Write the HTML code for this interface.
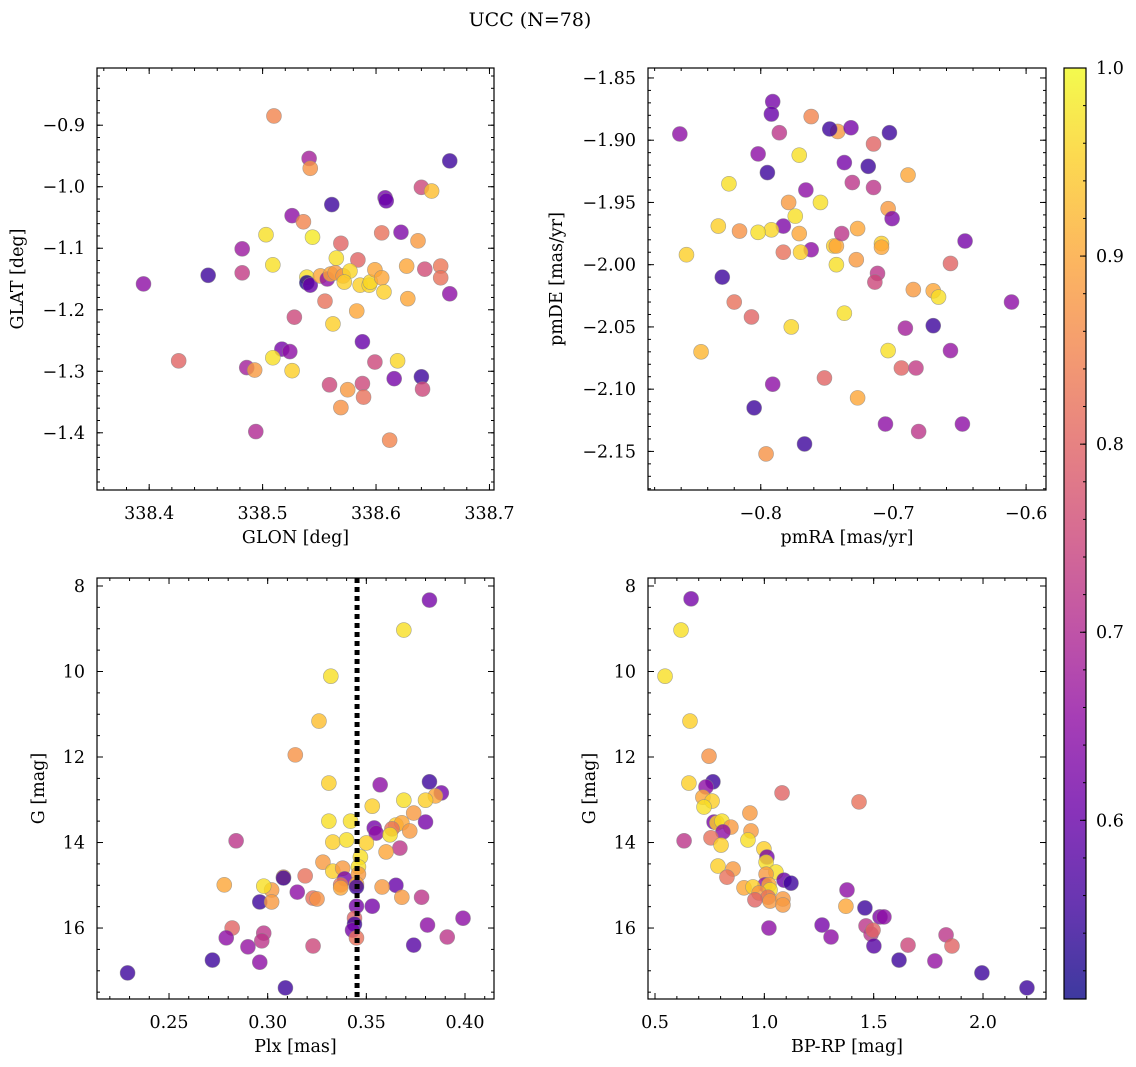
<!DOCTYPE html>
<html><head><meta charset="utf-8">
<style>
html,body{margin:0;padding:0;background:#fff;}
svg{display:block;font-family:"DejaVu Serif","Liberation Serif",serif;}
</style></head>
<body>
<svg id="fig" width="1136" height="1067" viewBox="0 0 1136 1067" xmlns="http://www.w3.org/2000/svg">
<text x="530" y="26" font-size="19" text-anchor="middle">UCC (N=78)</text>
</svg>
<script>
// ---- Panel 1: GLON / GLAT ----
const glon1=[338.510,338.541,338.542,338.665,338.608,338.609,338.640,338.649,338.561,338.526,338.536,338.503,338.544,338.482,338.569,338.605,338.622,338.637,338.509,338.482,338.452,338.395,338.584,338.565,338.539,338.539,338.542,338.551,338.557,338.560,338.564,338.571,338.577,338.572,338.586,338.594,338.595,338.599,338.605,338.607,338.627,338.643,338.657,338.657,338.665,338.628,338.555,338.583,338.562,338.528,338.588,338.517,338.524,338.486,338.493,338.509,338.526,338.619,338.599,338.426,338.559,338.575,338.588,338.589,338.640,338.616,338.641,338.569,338.612,338.494];
const glat1=[-0.885,-0.954,-0.970,-0.958,-1.018,-1.023,-1.001,-1.007,-1.029,-1.047,-1.057,-1.078,-1.082,-1.101,-1.092,-1.075,-1.074,-1.088,-1.127,-1.140,-1.144,-1.158,-1.119,-1.116,-1.147,-1.156,-1.160,-1.145,-1.150,-1.142,-1.140,-1.145,-1.137,-1.155,-1.160,-1.160,-1.155,-1.135,-1.148,-1.171,-1.129,-1.134,-1.129,-1.148,-1.174,-1.182,-1.186,-1.202,-1.223,-1.212,-1.252,-1.264,-1.268,-1.294,-1.298,-1.278,-1.299,-1.283,-1.285,-1.283,-1.322,-1.330,-1.320,-1.342,-1.309,-1.312,-1.329,-1.359,-1.412,-1.398];
const prob1=[0.85,0.68,0.87,0.55,0.62,0.6,0.75,0.93,0.55,0.65,0.85,0.97,0.98,0.67,0.8,0.82,0.63,0.88,0.97,0.73,0.55,0.65,0.8,0.97,0.97,0.52,0.6,0.9,0.65,0.9,0.88,0.88,0.96,0.95,0.95,0.96,0.96,0.9,0.9,0.95,0.9,0.76,0.83,0.82,0.65,0.9,0.82,0.9,0.95,0.75,0.6,0.62,0.65,0.68,0.88,0.97,0.95,0.96,0.75,0.8,0.75,0.88,0.75,0.82,0.55,0.62,0.75,0.87,0.85,0.7];
// ---- Panel 2: pmRA / pmDE ----
const pmra2=[-0.861,-0.791,-0.792,-0.762,-0.742,-0.748,-0.732,-0.703,-0.786,-0.802,-0.715,-0.771,-0.737,-0.719,-0.795,-0.766,-0.731,-0.715,-0.689,-0.824,-0.779,-0.755,-0.774,-0.783,-0.816,-0.792,-0.771,-0.727,-0.704,-0.701,-0.832,-0.802,-0.762,-0.783,-0.770,-0.745,-0.743,-0.739,-0.709,-0.709,-0.743,-0.728,-0.712,-0.714,-0.856,-0.829,-0.646,-0.657,-0.685,-0.670,-0.666,-0.820,-0.807,-0.737,-0.777,-0.691,-0.670,-0.611,-0.845,-0.657,-0.704,-0.694,-0.683,-0.752,-0.791,-0.727,-0.805,-0.706,-0.681,-0.648,-0.767,-0.796];
const pmde2=[-1.895,-1.869,-1.879,-1.881,-1.893,-1.891,-1.890,-1.894,-1.894,-1.911,-1.903,-1.912,-1.918,-1.921,-1.926,-1.940,-1.934,-1.938,-1.928,-1.935,-1.950,-1.950,-1.961,-1.969,-1.973,-1.972,-1.975,-1.971,-1.955,-1.963,-1.969,-1.974,-1.988,-1.990,-1.990,-1.985,-1.985,-1.975,-1.983,-1.986,-2.000,-1.996,-2.007,-2.014,-1.992,-2.010,-1.981,-1.999,-2.020,-2.021,-2.026,-2.030,-2.042,-2.039,-2.050,-2.051,-2.049,-2.030,-2.070,-2.069,-2.069,-2.083,-2.083,-2.091,-2.096,-2.107,-2.115,-2.128,-2.134,-2.128,-2.144,-2.152];
const prob2=[0.65,0.62,0.6,0.85,0.88,0.55,0.62,0.55,0.72,0.65,0.8,0.97,0.62,0.55,0.55,0.65,0.72,0.72,0.9,0.97,0.88,0.97,0.97,0.63,0.87,0.96,0.9,0.9,0.88,0.63,0.95,0.97,0.65,0.82,0.95,0.95,0.9,0.72,0.95,0.9,0.97,0.88,0.72,0.75,0.95,0.55,0.62,0.8,0.88,0.9,0.97,0.82,0.8,0.97,0.96,0.68,0.55,0.65,0.92,0.66,0.97,0.8,0.73,0.8,0.65,0.9,0.55,0.65,0.72,0.65,0.55,0.87];
// ---- Panel 3: Plx / G ----
const plx3=[0.382,0.369,0.332,0.326,0.314,0.331,0.382,0.357,0.388,0.385,0.380,0.369,0.353,0.374,0.331,0.342,0.380,0.354,0.365,0.368,0.363,0.372,0.355,0.333,0.340,0.362,0.350,0.367,0.284,0.360,0.328,0.347,0.333,0.338,0.346,0.308,0.319,0.308,0.339,0.346,0.345,0.278,0.365,0.345,0.358,0.302,0.337,0.337,0.315,0.298,0.323,0.325,0.296,0.302,0.368,0.378,0.345,0.353,0.399,0.344,0.381,0.344,0.343,0.298,0.282,0.279,0.391,0.345,0.297,0.323,0.374,0.290,0.272,0.296,0.229,0.309];
const gmag3=[8.33,9.03,10.11,11.16,11.95,12.61,12.58,12.65,12.84,12.91,13.01,13.01,13.15,13.31,13.50,13.50,13.52,13.66,13.59,13.54,13.68,13.73,13.78,13.99,13.94,13.82,14.01,14.13,13.96,14.22,14.46,14.34,14.67,14.60,14.57,14.81,14.78,14.83,14.85,14.74,14.97,14.99,15.00,15.04,15.04,15.11,14.99,15.06,15.16,15.02,15.30,15.32,15.39,15.39,15.28,15.28,15.49,15.49,15.77,15.77,15.93,15.91,16.05,16.12,16.00,16.23,16.21,16.23,16.30,16.42,16.40,16.44,16.75,16.80,17.05,17.40];
const prob3=[0.62,0.97,0.97,0.93,0.87,0.95,0.55,0.65,0.62,0.9,0.95,0.97,0.95,0.88,0.97,0.97,0.62,0.62,0.95,0.9,0.82,0.88,0.65,0.95,0.97,0.97,0.95,0.72,0.72,0.9,0.88,0.97,0.95,0.88,0.97,0.9,0.82,0.55,0.62,0.88,0.9,0.9,0.6,0.55,0.88,0.88,0.82,0.9,0.65,0.97,0.82,0.87,0.55,0.88,0.88,0.72,0.62,0.62,0.65,0.8,0.65,0.55,0.62,0.72,0.8,0.65,0.72,0.82,0.72,0.75,0.58,0.66,0.55,0.65,0.55,0.55];
const plxLine=0.3453;
// ---- Panel 4: BP-RP / G ----
const bprp4=[0.665,0.619,0.546,0.660,0.747,0.655,0.765,0.733,1.081,0.719,0.761,1.433,0.724,0.934,0.770,0.783,0.806,0.847,0.939,0.811,0.756,0.633,0.925,0.802,0.998,1.012,1.008,0.788,1.053,0.857,1.008,0.829,1.090,1.122,1.003,0.907,0.948,1.021,1.026,1.378,0.976,1.017,1.026,1.085,1.085,0.957,1.373,1.460,1.529,1.547,1.021,1.264,1.465,1.488,1.497,1.305,1.831,1.858,1.657,1.501,1.780,1.616,1.995,2.201];
const gmag4=[8.30,9.03,10.11,11.16,11.98,12.61,12.58,12.70,12.84,12.94,13.03,13.05,13.17,13.31,13.52,13.54,13.50,13.64,13.73,13.75,13.89,13.96,13.94,14.06,14.15,14.34,14.46,14.55,14.69,14.62,14.74,14.81,14.88,14.95,14.99,15.06,15.04,14.99,15.11,15.11,15.18,15.28,15.37,15.32,15.46,15.34,15.49,15.53,15.74,15.74,16.00,15.93,15.95,16.14,16.05,16.21,16.16,16.42,16.40,16.42,16.77,16.75,17.05,17.40];
const prob4=[0.62,0.97,0.97,0.95,0.87,0.95,0.55,0.65,0.8,0.9,0.95,0.82,0.97,0.88,0.62,0.95,0.97,0.88,0.88,0.65,0.82,0.72,0.97,0.95,0.95,0.62,0.97,0.95,0.97,0.88,0.88,0.82,0.6,0.55,0.65,0.9,0.95,0.9,0.97,0.65,0.88,0.82,0.88,0.88,0.88,0.8,0.9,0.55,0.63,0.65,0.65,0.62,0.72,0.72,0.8,0.65,0.72,0.8,0.75,0.58,0.66,0.55,0.55,0.55];
// ---- tick labels ----
const p1xTicks=[338.4,338.5,338.6,338.7];
const p1yTicks=[-0.9,-1.0,-1.1,-1.2,-1.3,-1.4];
const p2xTicks=[-0.8,-0.7,-0.6];
const p2yTicks=[-1.85,-1.90,-1.95,-2.00,-2.05,-2.10,-2.15];
const p3xTicks=[0.25,0.30,0.35,0.40];
const gTicks=[8,10,12,14,16];
const p4xTicks=[0.5,1.0,1.5,2.0];
const cbTicks=[0.6,0.7,0.8,0.9,1.0];
const cbMin=0.505, cbMax=1.0;

const NS="http://www.w3.org/2000/svg";
const svg=document.getElementById('fig');
const FS=17.5;
function mk(tag,attrs,parent){const e=document.createElementNS(NS,tag);for(const k in attrs)e.setAttribute(k,attrs[k]);(parent||svg).appendChild(e);return e;}
const stops=[[13,8,135],[65,4,157],[106,0,168],[143,13,164],[177,42,144],[204,71,120],[225,100,98],[242,132,75],[252,166,54],[252,206,37],[240,249,33]];
function plasma(p){let t=(p-cbMin)/(cbMax-cbMin);t=Math.max(0,Math.min(1,t));const f=t*10,i=Math.min(9,Math.floor(f)),r=f-i;const a=stops[i],b=stops[i+1];return `rgb(${Math.round(a[0]+(b[0]-a[0])*r)},${Math.round(a[1]+(b[1]-a[1])*r)},${Math.round(a[2]+(b[2]-a[2])*r)})`;}
function fmt(v,d){const s=Math.abs(v).toFixed(d);return (v<0?'\u2212':'')+s;}

function panel(cfg){
  const g=mk('g',{});
  
  
  const X=v=>cfg.x0+(v-cfg.xmin)/(cfg.xmax-cfg.xmin)*cfg.w;
  const Y=v=>cfg.y0+(v-cfg.ytop)/(cfg.ybot-cfg.ytop)*cfg.h;
  const pg=mk('g',{},g);
  
  
  for(let i=0;i<cfg.xs.length;i++){
    const c=mk('circle',{cx:X(cfg.xs[i]),cy:Y(cfg.ys[i]),r:7.5,fill:plasma(cfg.ps[i]),'fill-opacity':0.8,stroke:'#888','stroke-width':0.6,'stroke-opacity':0.7},pg);
    
    
  }
  if(cfg.vline!==undefined){
    const l=mk('line',{x1:X(cfg.vline),x2:X(cfg.vline),y1:cfg.y0,y2:cfg.y0+cfg.h,stroke:'#000','stroke-width':5,'stroke-dasharray':'5 4'},g);
    
    
  }
  const fr=mk('rect',{x:cfg.x0,y:cfg.y0,width:cfg.w,height:cfg.h,fill:'none',stroke:'#000','stroke-width':1.2},g);
  
  
  const tk=(x1,y1,x2,y2)=>mk('line',{x1,y1,x2,y2,stroke:'#000','stroke-width':1},g);
  const xl=Math.min(cfg.xmin,cfg.xmax),xh=Math.max(cfg.xmin,cfg.xmax);
  for(let v=Math.ceil(xl/cfg.xminor-1e-6)*cfg.xminor;v<=xh+1e-9;v+=cfg.xminor){const px=X(v);tk(px,cfg.y0+cfg.h,px,cfg.y0+cfg.h-3);tk(px,cfg.y0,px,cfg.y0+3);}
  const yl=Math.min(cfg.ytop,cfg.ybot),yh=Math.max(cfg.ytop,cfg.ybot);
  for(let v=Math.ceil(yl/cfg.yminor-1e-6)*cfg.yminor;v<=yh+1e-9;v+=cfg.yminor){const py=Y(v);tk(cfg.x0,py,cfg.x0+3,py);tk(cfg.x0+cfg.w,py,cfg.x0+cfg.w-3,py);}
  cfg.xt.forEach(v=>{const px=X(v);tk(px,cfg.y0+cfg.h,px,cfg.y0+cfg.h-6);tk(px,cfg.y0,px,cfg.y0+6);
    const t=mk('text',{x:px,y:cfg.y0+cfg.h+29,'font-size':FS,'text-anchor':'middle'},g);t.textContent=fmt(v,cfg.xd);
    });
  cfg.yt.forEach(v=>{const py=Y(v);tk(cfg.x0,py,cfg.x0+6,py);tk(cfg.x0+cfg.w,py,cfg.x0+cfg.w-6,py);
    const t=mk('text',{x:cfg.x0-12,y:py+6,'font-size':FS,'text-anchor':'end'},g);t.textContent=fmt(v,cfg.yd);
    });
  const xlab=mk('text',{x:cfg.x0+cfg.w/2,y:cfg.y0+cfg.h+53,'font-size':FS,'text-anchor':'middle'},g);xlab.textContent=cfg.xlabel;
  
  const ylab=mk('text',{x:cfg.ylx,y:cfg.y0+cfg.h/2,'font-size':FS,'text-anchor':'middle',transform:`rotate(-90 ${cfg.ylx} ${cfg.y0+cfg.h/2})`},g);ylab.textContent=cfg.ylabel;
  
}
panel({name:'glon-glat-panel',x0:97,y0:68,w:397,h:422,xmin:338.354,xmax:338.704,ytop:-0.807,ybot:-1.493,xs:glon1,ys:glat1,ps:prob1,xt:p1xTicks,yt:p1yTicks,xd:1,yd:1,xminor:0.02,yminor:0.02,xlabel:'GLON [deg]',ylabel:'GLAT [deg]',ylx:23});
panel({name:'pm-panel',x0:648,y0:68,w:398,h:422,xmin:-0.885,xmax:-0.585,ytop:-1.842,ybot:-2.181,xs:pmra2,ys:pmde2,ps:prob2,xt:p2xTicks,yt:p2yTicks,xd:1,yd:2,xminor:0.02,yminor:0.01,xlabel:'pmRA [mas/yr]',ylabel:'pmDE [mas/yr]',ylx:562});
panel({name:'plx-g-panel',x0:97,y0:578,w:397,h:421,xmin:0.2135,xmax:0.4147,ytop:7.813,ybot:17.66,xs:plx3,ys:gmag3,ps:prob3,xt:p3xTicks,yt:gTicks,xd:2,yd:0,xminor:0.01,yminor:0.5,xlabel:'Plx [mas]',ylabel:'G [mag]',ylx:44,vline:plxLine});
panel({name:'cmd-panel',x0:648,y0:578,w:398,h:421,xmin:0.468,xmax:2.288,ytop:7.813,ybot:17.66,xs:bprp4,ys:gmag4,ps:prob4,xt:p4xTicks,yt:gTicks,xd:1,yd:0,xminor:0.1,yminor:0.5,xlabel:'BP-RP [mag]',ylabel:'G [mag]',ylx:595});

const defs=mk('defs',{});
const lg=mk('linearGradient',{id:'plasmaG',x1:0,y1:1,x2:0,y2:0},defs);
stops.forEach((s,i)=>mk('stop',{offset:i/10,'stop-color':`rgb(${s[0]},${s[1]},${s[2]})`},lg));
const cbx=1064,cby=68,cbw=22,cbh=931;
const cb=mk('g',{});


mk('rect',{x:cbx,y:cby,width:cbw,height:cbh,fill:'url(#plasmaG)','fill-opacity':0.8},cb);
mk('rect',{x:cbx,y:cby,width:cbw,height:cbh,fill:'none',stroke:'#000','stroke-width':1.2},cb);
const CY=v=>cby+cbh-(v-cbMin)/(cbMax-cbMin)*cbh;
for(let v=0.52;v<=1.0001;v+=0.02){mk('line',{x1:cbx+cbw,x2:cbx+cbw-3,y1:CY(v),y2:CY(v),stroke:'#000'},cb);}
cbTicks.forEach(v=>{mk('line',{x1:cbx+cbw,x2:cbx+cbw-6,y1:CY(v),y2:CY(v),stroke:'#000'},cb);
  const t=mk('text',{x:cbx+cbw+10,y:CY(v)+6,'font-size':FS},cb);t.textContent=v.toFixed(1);
  });
</script>
</body></html>
